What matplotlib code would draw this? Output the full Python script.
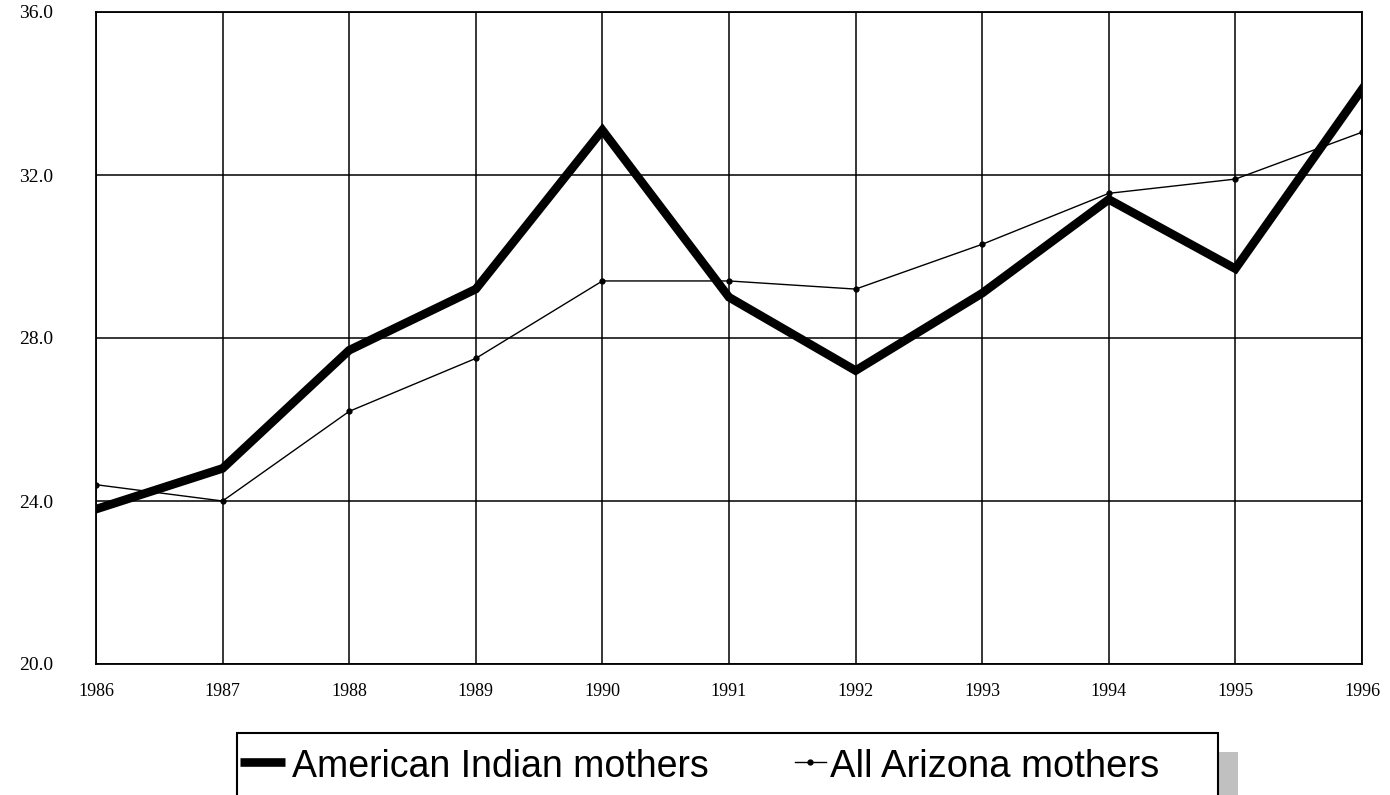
import matplotlib
matplotlib.use('Agg')
import matplotlib.pyplot as plt
from matplotlib.patches import Rectangle
from matplotlib.lines import Line2D

# data
years = [1986, 1987, 1988, 1989, 1990, 1991, 1992, 1993, 1994, 1995, 1996]
american_indian = [23.8, 24.8, 27.7, 29.2, 33.1, 29.0, 27.2, 29.1, 31.4, 29.7, 34.1]
all_arizona = [24.4, 24.0, 26.2, 27.5, 29.4, 29.4, 29.2, 30.3, 31.55, 31.9, 33.05]
y_ticks = [20, 24, 28, 32, 36]
y_tick_labels = ['20.0', '24.0', '28.0', '32.0', '36.0']

W, H = 1390, 795
fig = plt.figure(figsize=(W / 100, H / 100), dpi=100)
ax = fig.add_axes([96 / W, 1 - 664 / H, (1362 - 96) / W, (664 - 12) / H])

ax.plot(years, american_indian, color='black', lw=6.2, solid_joinstyle='miter', zorder=3)
ax.plot(years, all_arizona, color='black', lw=1.0, marker='o', ms=3.5, zorder=4)

ax.set_xlim(years[0], years[-1])
ax.set_ylim(y_ticks[0], y_ticks[-1])
ax.set_xticks(years)
ax.set_xticklabels([str(y) for y in years], family='Liberation Serif', fontsize=13)
ax.set_yticks(y_ticks)
ax.set_yticklabels(y_tick_labels, family='Liberation Serif', fontsize=14)
ax.tick_params(axis='y', length=0, pad=31)
ax.tick_params(axis='x', length=0, pad=14)
ax.grid(True, color='black', lw=1.1)
for s in ax.spines.values():
    s.set_color('black')
    s.set_linewidth(1.3)

# legend box drawn by hand (bottom edge runs off the figure)
tf = fig.transFigure
fig.add_artist(Rectangle((1218 / W, -0.05), 20 / W, 0.05 + (1 - 752 / H),
                         transform=tf, facecolor='#c0c0c0', edgecolor='none', zorder=1))
fig.add_artist(Rectangle((237 / W, -0.05), (1218 - 237) / W, 0.05 + (1 - 733 / H),
                         transform=tf, facecolor='white', edgecolor='black', lw=1.5, zorder=2))
ymid = 1 - 762 / H
fig.add_artist(Line2D([240 / W, 285 / W], [ymid, ymid], transform=tf, color='black',
                      lw=6.2, solid_capstyle='butt', zorder=3))
fig.add_artist(Line2D([795 / W, 826 / W], [ymid, ymid], transform=tf, color='black',
                      lw=1.0, zorder=3))
fig.add_artist(Line2D([810 / W], [ymid], transform=tf, color='black', marker='o', ms=3.5,
                      zorder=3))
base = 1 - 777 / H
fig.text(292 / W, base, 'American Indian mothers', family='Liberation Sans', fontsize=27,
         va='baseline', ha='left', zorder=4)
fig.text(830 / W, base, 'All Arizona mothers', family='Liberation Sans', fontsize=27.5,
         va='baseline', ha='left', zorder=4)

fig.savefig('out.png', dpi=100)
